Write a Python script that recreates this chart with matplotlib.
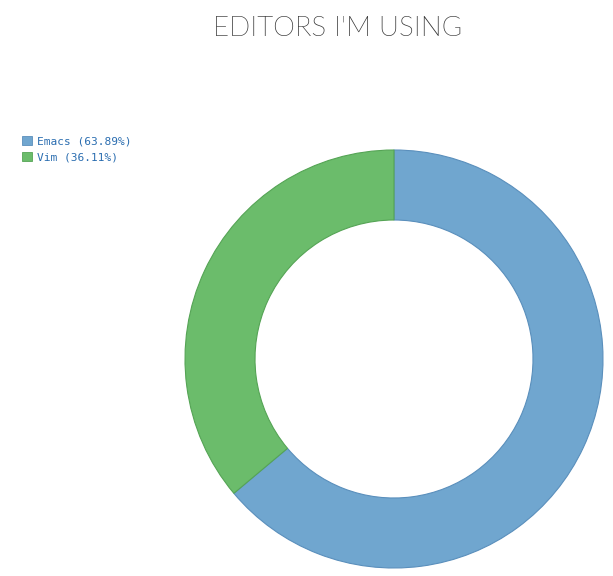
import matplotlib
matplotlib.use('Agg')
import matplotlib.pyplot as plt
from matplotlib import font_manager
from matplotlib.patches import Patch

# data
labels = ['Emacs', 'Vim']
shares = [63.89, 36.11]
colors = ['#70a6cf', '#6bbc6b']
edges = ['#5a8fbc', '#55a455']

# look for the Lato Light file, else plain Lato
title_font = font_manager.FontProperties(family='Lato', weight='normal')
for f in font_manager.fontManager.ttflist:
    if f.name == 'Lato' and 'light' in f.fname.lower() and 'italic' not in f.fname.lower():
        title_font = font_manager.FontProperties(fname=f.fname)
        break
title_font.set_size(20)

W, H = 613, 576
fig = plt.figure(figsize=(W / 100, H / 100), dpi=100)

# donut axes, placed in pixel terms
cx, cy, r = 394, 359, 209
ax = fig.add_axes([(cx - r) / W, 1 - (cy + r) / H, 2 * r / W, 2 * r / H])
wedges, _ = ax.pie(shares, colors=colors, startangle=90, counterclock=False,
                   radius=1.0, wedgeprops=dict(width=70 / 209, linewidth=0.8))
for w, e in zip(wedges, edges):
    w.set_edgecolor(e)
ax.set_xlim(-1, 1)
ax.set_ylim(-1, 1)
ax.set_aspect('equal')
ax.axis('off')

# title
fig.text(338 / W, 1 - 29 / H, "EDITORS I'M USING", ha='center', va='center',
         fontproperties=title_font, color='#333333')

# legend
handles = [Patch(facecolor=c, edgecolor=e, linewidth=0.6) for c, e in zip(colors, edges)]
texts = ['%s (%.2f%%)' % (l, s) for l, s in zip(labels, shares)]
leg = fig.legend(handles, texts, loc='upper left', bbox_to_anchor=(22 / W, 1 - 136 / H),
                 frameon=False, prop={'family': 'DejaVu Sans Mono', 'size': 8},
                 handlelength=0.9, handleheight=0.9, handletextpad=0.45,
                 labelspacing=0.5, borderaxespad=0, borderpad=0)
for t in leg.get_texts():
    t.set_color('#2a6db0')

fig.savefig('out.png', dpi=100)
